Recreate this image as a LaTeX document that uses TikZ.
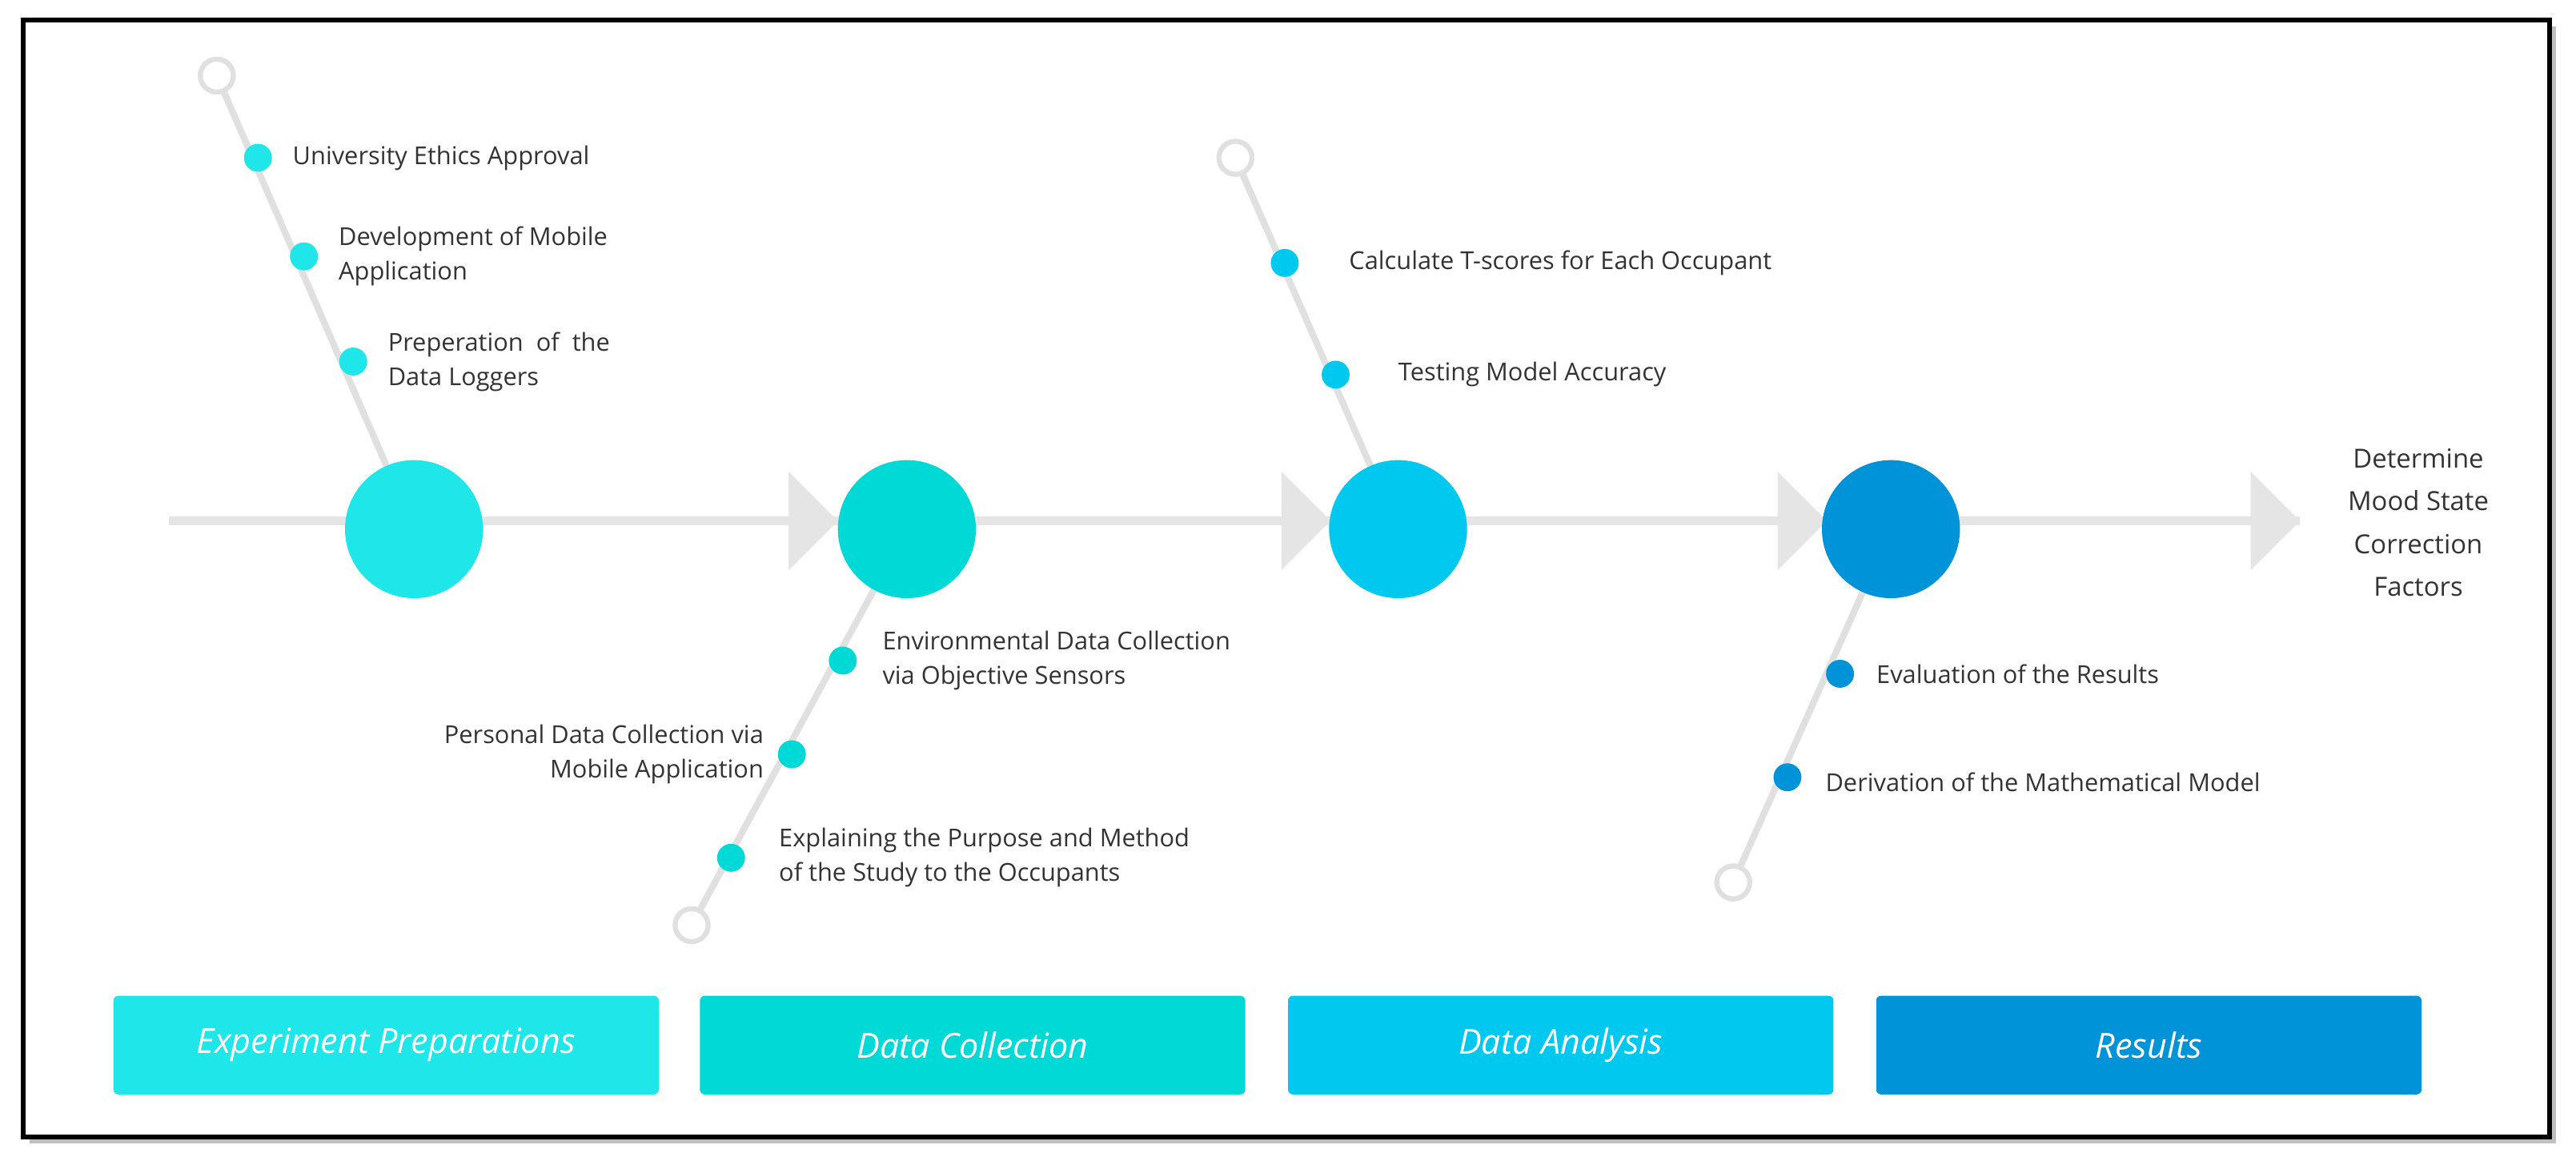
\documentclass[tikz,border=0pt]{standalone}
\usepackage{fontspec}
\setmainfont{Open Sans}
\begin{document}
\begin{tikzpicture}[x=1pt,y=-1pt,
  lbl/.style={font=\fontsize{15}{21}\selectfont,text=black!80,inner sep=0pt},
  hol/.style={circle,draw=black!12,line width=3pt,fill=white,minimum size=20pt,inner sep=0pt},
  dot/.style={circle,fill=#1,minimum size=17pt,inner sep=0pt},
  big/.style={circle,fill=#1,minimum size=84pt,inner sep=0pt},
  stem/.style={draw=black!12,line width=4pt},
  chev/.style={fill=black!10},
  box/.style={rounded corners=3pt,fill=#1,minimum width=332pt,minimum height=60pt,text=white,font=\fontsize{21}{24}\selectfont\itshape}]
\definecolor{cA}{HTML}{1EE6E9}\definecolor{cB}{HTML}{00D9D6}
\definecolor{cC}{HTML}{00C8EF}\definecolor{cD}{HTML}{0093D8}
\useasboundingbox (0,0) rectangle (1568,704);
\fill[black!25] (18,16) rectangle (1556,696);
\draw[line width=3pt,fill=white] (14,12) rectangle (1552,692);
\draw[draw=black!10,line width=5pt] (103,317) -- (1400,317);
\foreach \x in {480,780,1082,1370}
  \fill[chev] (\x,287) -- (\x+30,317) -- (\x,347) -- cycle;
% stems
\node[hol] (h1) at (132,46) {};
\node[hol] (h2) at (421,563) {};
\node[hol] (h3) at (752,96) {};
\node[hol] (h4) at (1055,537) {};
\coordinate (b1) at (252,322);\coordinate (b2) at (552,322);
\coordinate (b3) at (851,322);\coordinate (b4) at (1151,322);
\draw[stem] (h1) -- (b1); \draw[stem] (h2) -- (b2);
\draw[stem] (h3) -- (b3); \draw[stem] (h4) -- (b4);
\node[hol] at (h1) {};\node[hol] at (h2) {};\node[hol] at (h3) {};\node[hol] at (h4) {};
\node[big=cA] (B1) at (b1) {};
\node[big=cB] (B2) at (b2) {};
\node[big=cC] (B3) at (b3) {};
\node[big=cD] (B4) at (b4) {};
% dots + labels
\node[dot=cA] (d11) at (157,96) {};
\node[lbl,anchor=west] at (178,96) {University Ethics Approval};
\node[dot=cA] (d12) at (185,156) {};
\node[lbl,anchor=west,align=left] at (206,156) {Development of Mobile\\Application};
\node[dot=cA] (d13) at (215,220) {};
\node[lbl,anchor=west,align=left] at (236,220) {Preperation \ of \ the\\Data Loggers};
\node[dot=cB] (d21) at (513,402) {};
\node[lbl,anchor=west,align=left] at (537,402) {Environmental Data Collection\\via Objective Sensors};
\node[dot=cB] (d22) at (482,459) {};
\node[lbl,anchor=east,align=right] at (465,459) {Personal Data Collection via\\Mobile Application};
\node[dot=cB] (d23) at (445,522) {};
\node[lbl,anchor=west,align=left] at (474,522) {Explaining the Purpose and Method\\of the Study to the Occupants};
\node[dot=cC] (d31) at (782,160) {};
\node[lbl,anchor=west] at (821,160) {Calculate T-scores for Each Occupant};
\node[dot=cC] (d32) at (813,228) {};
\node[lbl,anchor=west] at (851,228) {Testing Model Accuracy};
\node[dot=cD] (d41) at (1120,410) {};
\node[lbl,anchor=west] at (1142,410) {Evaluation of the Results};
\node[dot=cD] (d42) at (1088,473) {};
\node[lbl,anchor=west] at (1111,476) {Derivation of the Mathematical Model};
\node[lbl,align=center,font=\fontsize{16}{26}\selectfont] at (1472,318) {Determine\\Mood State\\Correction\\Factors};
% boxes
\node[box=cA] (x1) at (235,636) {Experiment Preparations};
\node[box=cB] (x2) at (592,636) {Data Collection};
\node[box=cC] (x3) at (950,636) {Data Analysis};
\node[box=cD] (x4) at (1308,636) {Results};
\end{tikzpicture}
\end{document}
